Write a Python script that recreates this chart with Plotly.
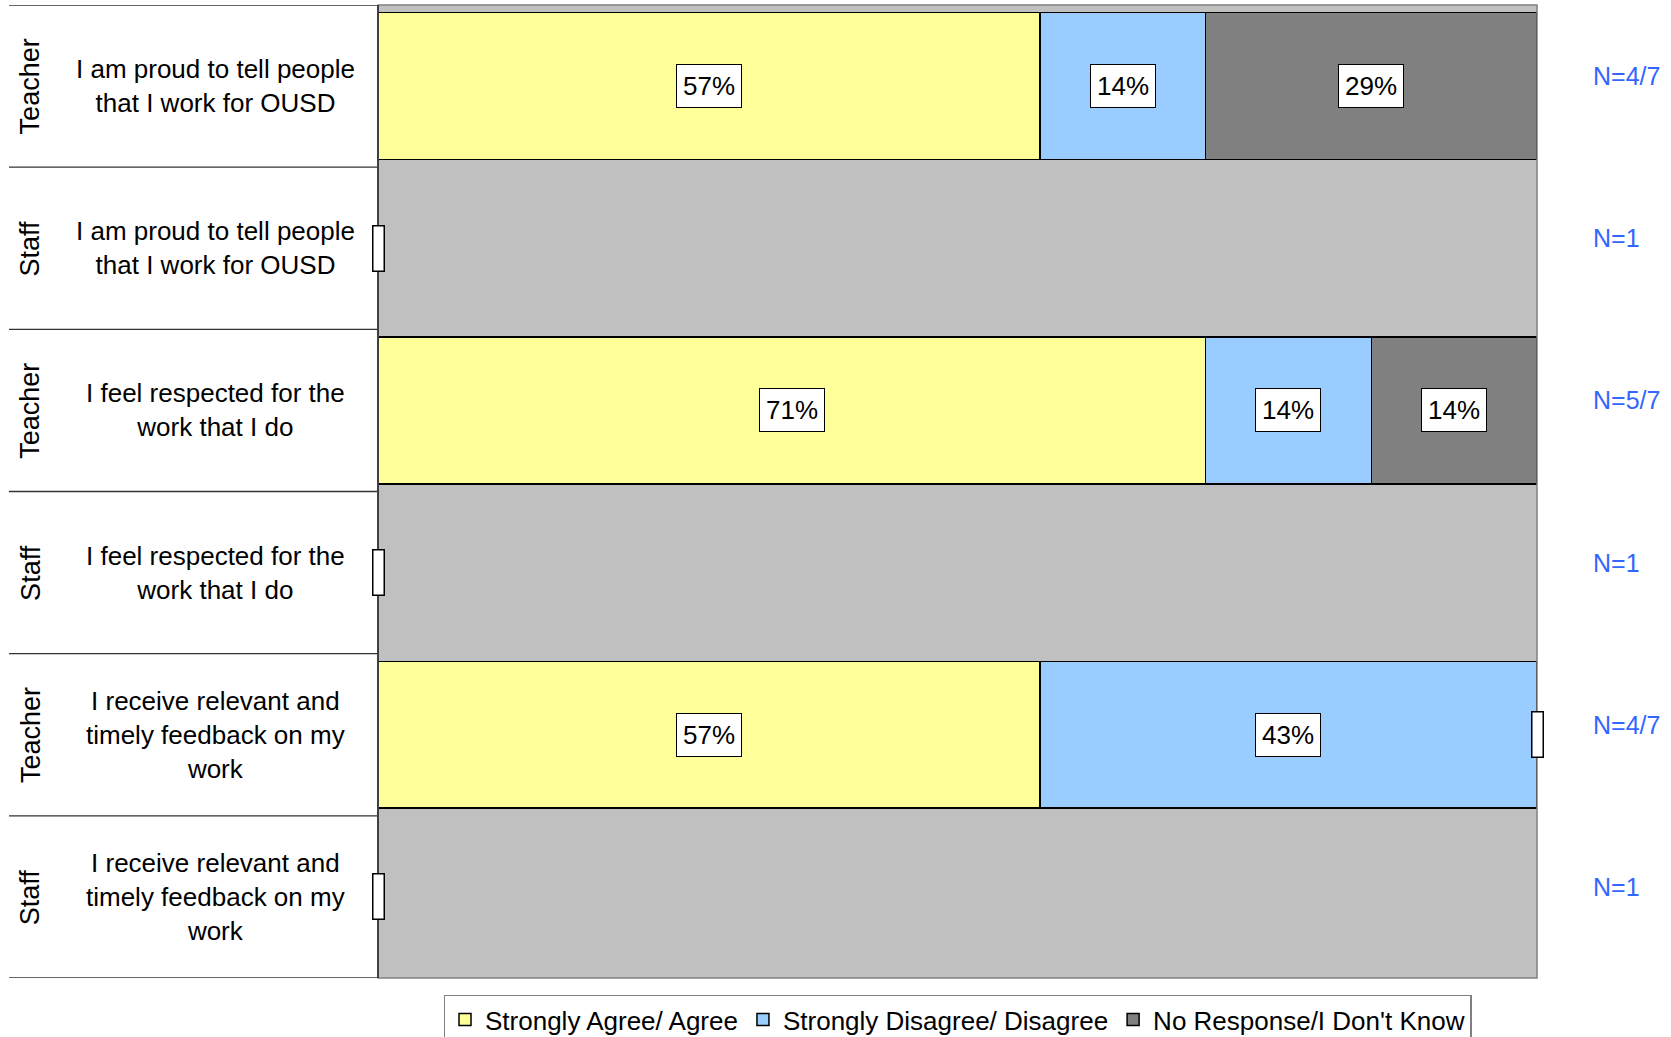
import plotly.graph_objects as go

# rows from top to bottom
groups = ["Teacher", "Staff", "Teacher", "Staff", "Teacher", "Staff"]
questions = [
    "I am proud to tell people<br>that I work for OUSD",
    "I am proud to tell people<br>that I work for OUSD",
    "I feel respected for the<br>work that I do",
    "I feel respected for the<br>work that I do",
    "I receive relevant and<br>timely feedback on my<br>work",
    "I receive relevant and<br>timely feedback on my<br>work",
]
n_labels = ["N=4/7", "N=1", "N=5/7", "N=1", "N=4/7", "N=1"]

series_names = ["Strongly Agree/ Agree", "Strongly Disagree/ Disagree", "No Response/I Don't Know"]
agree = [57.1, 0, 71.4, 0, 57.1, 0]
disagree = [14.3, 0, 14.3, 0, 42.9, 0]
no_response = [28.6, 0, 14.3, 0, 0, 0]
series_values = [agree, disagree, no_response]
series_colors = ["#FFFF99", "#99CCFF", "#808080"]

FONT = "Liberation Sans, Arial, sans-serif"
rows = list(range(len(groups)))

fig = go.Figure()
for name, vals, col in zip(series_names, series_values, series_colors):
    fig.add_trace(go.Bar(
        y=rows, x=vals, name=name, orientation="h",
        marker=dict(color=col, line=dict(color="#000000", width=1.5)),
        hoverinfo="x+name",
    ))

annotations = []
shapes = []

# data labels in white boxes, centred on each segment
for i in rows:
    base = 0
    for vals in series_values:
        v = vals[i]
        if v > 0:
            annotations.append(dict(
                x=base + v / 2, y=i, xref="x", yref="y", text=f"{v:.0f}%",
                xanchor="center", showarrow=False,
                font=dict(size=26, color="#000000", family=FONT),
                bgcolor="#FFFFFF", bordercolor="#000000", borderwidth=1, borderpad=6,
            ))
        else:
            annotations.append(dict(
                x=base, y=i, xref="x", yref="y", text=" ",
                xanchor="center", showarrow=False,
                font=dict(size=26, color="#000000", family=FONT),
                width=6, height=40, bgcolor="#FFFFFF", bordercolor="#000000",
                borderwidth=1.5, borderpad=2,
            ))
        base += v

# left-hand table: group and question text, N at the right
for i in rows:
    annotations.append(dict(
        x=-0.300, y=i, xref="paper", yref="y", text=groups[i], textangle=-90,
        xanchor="center", showarrow=False,
        font=dict(size=27, color="#000000", family=FONT),
    ))
    annotations.append(dict(
        x=-0.140, y=i, xref="paper", yref="y", text=questions[i], align="center",
        xanchor="center", showarrow=False,
        font=dict(size=26, color="#000000", family=FONT),
    ))
    annotations.append(dict(
        x=1.0466, y=i, xref="paper", yref="y", text=n_labels[i], xanchor="left",
        yshift=10, showarrow=False, font=dict(size=25, color="#3366FF", family=FONT),
    ))

for k in range(len(rows) + 1):
    shapes.append(dict(
        type="line", xref="paper", yref="y", x0=-0.3184, x1=0, y0=k - 0.5, y1=k - 0.5,
        line=dict(color="#333333", width=1.3),
    ))

# plot frame
shapes.append(dict(type="rect", xref="paper", yref="paper", x0=0, x1=1, y0=0, y1=1,
                   line=dict(color="#808080", width=1.5), layer="above"))
shapes.append(dict(type="line", xref="paper", yref="paper", x0=0, x1=0, y0=0, y1=1,
                   line=dict(color="#404040", width=2), layer="above"))

fig.update_layout(
    width=1671, height=1037,
    margin=dict(l=378, r=134, t=5, b=59, autoexpand=False),
    barmode="stack", bargap=0.094,
    plot_bgcolor="#C0C0C0", paper_bgcolor="#FFFFFF",
    font=dict(family=FONT, color="#000000"),
    xaxis=dict(range=[0, 100], showticklabels=False, showgrid=False, zeroline=False,
               ticks="", fixedrange=True),
    yaxis=dict(range=[5.5, -0.5], showticklabels=False, showgrid=False, zeroline=False,
               ticks="", fixedrange=True),
    legend=dict(
        orientation="h", x=0.5, xanchor="center", y=-0.017, yanchor="top",
        bgcolor="#FFFFFF", bordercolor="#808080", borderwidth=1.5,
        font=dict(size=26, color="#000000", family=FONT), traceorder="normal",
    ),
    annotations=annotations, shapes=shapes,
)

fig.write_html("out.html", config={"displayModeBar": False},
               post_script="document.body.style.margin='0px';")
